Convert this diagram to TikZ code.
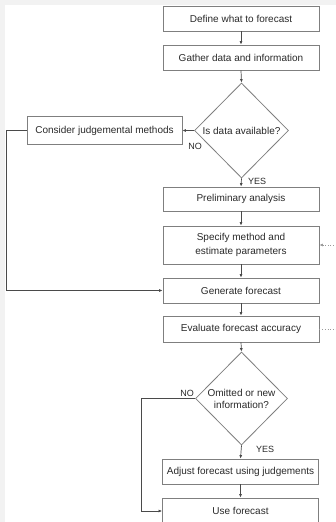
\documentclass[tikz,border=0pt]{standalone}
\usepackage{fontspec}
\setmainfont{Liberation Sans}
\usetikzlibrary{arrows.meta,shapes.geometric}
\definecolor{edgegray}{HTML}{7F7F7F}
\definecolor{linegray}{HTML}{4A4A4A}
\definecolor{txt}{HTML}{2A2A2A}
\definecolor{bggray}{HTML}{F2F2F2}
\definecolor{fbgray}{HTML}{9A9A9A}
\begin{document}
\begin{tikzpicture}[x=1pt,y=-1pt,
  box/.style={draw=edgegray, line width=0.8pt, fill=white, text=txt, minimum width=156pt,
    inner sep=0pt, align=center, font=\fontsize{10}{13.5}\selectfont},
  dec/.style={draw=edgegray, line width=0.8pt, fill=white, shape=diamond, inner sep=0pt,
    align=center, text=txt, font=\fontsize{10}{12}\selectfont},
  arr/.style={draw=linegray, line width=0.7pt, -{Latex[length=3.5pt,width=3pt]}},
  fb/.style={draw=fbgray, dotted, line width=0.7pt, -{Latex[length=3.5pt,width=3pt]}},
  lbl/.style={text=txt, font=\fontsize{9}{10}\selectfont, inner sep=0pt}]
\clip (0,0) rectangle (336,522);
\fill[bggray] (0,0) rectangle (336,522);
\fill[white] (5,5) rectangle (336,522);

\node[box, minimum height=25pt] (define) at (241,18.5) {Define what to forecast};
\node[box, minimum height=25pt] (gather) at (241,57.5) {Gather data and information};
\node[dec, minimum width=94pt, minimum height=95pt] (avail) at (241.5,130.5) {Is data available?};
\node[box, minimum width=155pt, minimum height=28pt] (judge) at (104.5,130.5) {Consider judgemental methods};
\node[box, minimum height=24pt] (prelim) at (241,199) {Preliminary analysis};
\node[box, minimum height=38pt] (specify) at (241,245) {Specify method and\\estimate parameters};
\node[box, minimum height=25pt] (gen) at (241,290.5) {Generate forecast};
\node[box, minimum height=26pt] (eval) at (241,329) {Evaluate forecast accuracy};
\node[dec, minimum width=92pt, minimum height=93pt] (omit) at (241.5,398.5) {Omitted or new\\information?};
\node[box, minimum height=25pt] (adjust) at (240.5,471.5) {Adjust forecast using judgements};
\node[box, minimum height=26pt] (use) at (240.5,511) {Use forecast};

\node[lbl] (no1) at (195,146) {NO};
\node[lbl, anchor=west] (yes1) at (248,181) {YES};
\node[lbl] (no2) at (187,393) {NO};
\node[lbl, anchor=west] (yes2) at (256,449) {YES};

\draw[arr] (define) -- (gather);
\draw[arr] (gather.south) -- (avail.north);
\draw[arr] (avail.west) -- (judge.east);
\draw[arr] (judge.west) -- ++(-20,0) |- (gen.west);
\draw[arr] (avail.south) -- (prelim.north);
\draw[arr] (prelim) -- (specify);
\draw[arr] (specify) -- (gen);
\draw[arr] (gen) -- (eval);
\draw[arr] (eval.south) -- (omit.north);
\draw[arr] (omit.south) -- (adjust.north);
\draw[arr] (adjust) -- (use);
\draw[arr] (omit.west) -- ++(-54,0) |- (use.west);
\draw[fb] (eval.east) -- ++(30,0) coordinate (fbc) |- (specify.east);
\end{tikzpicture}
\end{document}
